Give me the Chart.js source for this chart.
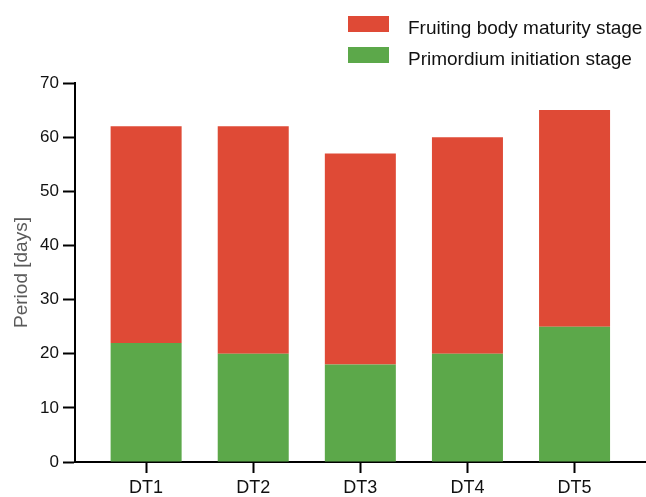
<!DOCTYPE html>
<html>
<head>
<meta charset="utf-8">
<script src="https://cdn.jsdelivr.net/npm/chart.js@4/dist/chart.umd.min.js"></script>
<style>
  html, body { margin: 0; padding: 0; background: #fff; }
  #wrap { width: 646px; height: 497px; position: relative; }
</style>
</head>
<body>
<div id="wrap"><canvas id="c" width="646" height="497"></canvas></div>
<script>
// Cultivation periods per strain (days)
const categories = ['DT1', 'DT2', 'DT3', 'DT4', 'DT5'];
const primordiumDays = [22, 20, 18, 20, 25];
const maturityDays = [40, 42, 39, 40, 40];
const yTicks = [0, 10, 20, 30, 40, 50, 60, 70];
const seriesNames = ['Primordium initiation stage', 'Fruiting body maturity stage'];

const GREEN = '#5CA84A';
const RED = '#DF4A36';
const FONT = "'Liberation Sans', Arial, Helvetica, sans-serif";

// Legend drawn top-right, stacked vertically, top series first
const stackLegend = {
  id: 'stackLegend',
  afterDraw(chart) {
    const ctx = chart.ctx;
    const sets = chart.data.datasets.slice().reverse();
    ctx.save();
    ctx.font = '19px ' + FONT;
    ctx.textBaseline = 'alphabetic';
    ctx.textAlign = 'left';
    sets.forEach((ds, i) => {
      const y = 16 + i * 31;
      ctx.fillStyle = ds.backgroundColor;
      ctx.fillRect(348, y, 41, 16);
      ctx.fillStyle = '#111';
      ctx.fillText(ds.label, 408, y + 18);
    });
    ctx.restore();
  }
};

new Chart(document.getElementById('c'), {
  type: 'bar',
  data: {
    datasets: [
      {
        label: seriesNames[0],
        data: primordiumDays.map((v, i) => ({ x: i, y: v })),
        backgroundColor: GREEN,
        barPercentage: 0.663,
        categoryPercentage: 1
      },
      {
        label: seriesNames[1],
        data: maturityDays.map((v, i) => ({ x: i, y: v })),
        backgroundColor: RED,
        barPercentage: 0.663,
        categoryPercentage: 1
      }
    ]
  },
  options: {
    responsive: false,
    animation: false,
    layout: { padding: { top: 83, left: 0, right: 0, bottom: 0 } },
    plugins: {
      legend: { display: false },
      tooltip: { enabled: false }
    },
    scales: {
      x: {
        type: 'linear',
        stacked: true,
        offset: false,
        min: -0.664,
        max: 4.667,
        afterBuildTicks(scale) {
          scale.ticks = categories.map((_, i) => ({ value: i }));
        },
        afterFit(scale) { scale.height = 35; },
        grid: {
          offset: false,
          drawOnChartArea: false,
          drawTicks: true,
          tickLength: 11,
          tickColor: '#000',
          tickWidth: 2
        },
        border: { display: true, color: '#000', width: 2 },
        ticks: {
          color: '#111',
          font: { family: FONT, size: 18 },
          padding: 4,
          maxRotation: 0,
          autoSkip: false,
          callback: (v) => categories[v]
        }
      },
      y: {
        stacked: true,
        min: 0,
        max: 70,
        afterBuildTicks(scale) {
          scale.ticks = yTicks.map(v => ({ value: v }));
        },
        afterFit(scale) { scale.width = 75; },
        grid: {
          drawOnChartArea: false,
          drawTicks: true,
          tickLength: 12,
          tickColor: '#000',
          tickWidth: 2
        },
        border: { display: true, color: '#000', width: 2 },
        ticks: {
          color: '#111',
          font: { family: FONT, size: 17 },
          padding: 4
        },
        title: {
          display: true,
          text: 'Period [days]',
          color: '#5a5a5a',
          font: { family: FONT, size: 19 },
          padding: { top: 10, bottom: 0 }
        }
      }
    }
  },
  plugins: [stackLegend]
});
</script>
</body>
</html>
